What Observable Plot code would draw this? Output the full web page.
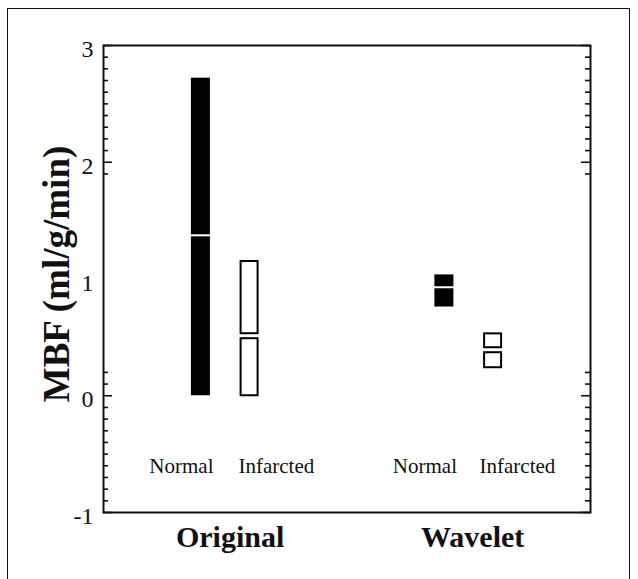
<!DOCTYPE html>
<html>
<head>
<meta charset="utf-8">
<script src="https://cdn.jsdelivr.net/npm/d3@7"></script>
<script src="https://cdn.jsdelivr.net/npm/@observablehq/plot@0.6"></script>
<style>
  html, body { margin: 0; padding: 0; background: #fff; overflow: hidden; }
  #wrap { position: relative; width: 638px; height: 579px; overflow: hidden; }
  #border { position: absolute; left: 7px; top: 8px; width: 623px; height: 620px; border: 1.6px solid #111; box-sizing: border-box; pointer-events: none; }
</style>
</head>
<body>
<div id="wrap"><div id="border"></div></div>
<script>
// ---- data ----
const groups = ["Original", "Wavelet"];
const groupSlots = [2.6, 7.58];
const boxGroup = ["Original", "Original", "Wavelet", "Wavelet"];
const boxCondition = ["Normal", "Infarcted", "Normal", "Infarcted"];
const boxSlots = [2, 3, 7, 8];
const labelSlots = [1.6, 3.55, 6.6, 8.5];
const lowValues = [0, 0, 0.76, 0.24];
const midValues = [1.37, 0.51, 0.925, 0.39];
const highValues = [2.72, 1.15, 1.035, 0.53];
const yTickValues = [-1, 0, 1, 2, 3];
const majorTicks = [-1, 0, 2, 3];
const minorTicks = [2.9, 2.8, 2.7, 2.6, 2.5, 2.4, 2.3, 2.2, 2.1, 1.9, 0.2, 0.1,
  -0.1, -0.2, -0.3, -0.4, -0.5, -0.6, -0.7, -0.8, -0.9];
const yLabel = "MBF (ml/g/min)";

// ---- layout ----
const W = 638, H = 579;
const mL = 103, mR = 48, mT = 45, mB = 67;
const xDomain = [0, 10];
const pxPerX = (W - mL - mR) / (xDomain[1] - xDomain[0]);
const half = 19 / 2 / pxPerX;
const px = (p) => p / pxPerX;

const boxes = boxSlots.map((s, i) => ({
  group: boxGroup[i], cond: boxCondition[i], slot: s,
  lo: lowValues[i], mid: midValues[i], hi: highValues[i]
}));
const filled = boxes.filter(d => d.cond === "Normal");
const open = boxes.filter(d => d.cond === "Infarcted");
const condLabels = boxes.map((d, i) => ({text: d.cond, slot: labelSlots[i]}));
const groupLabels = groups.map((g, i) => ({text: g, slot: groupSlots[i]}));

function tickRules(vals, len) {
  return [
    Plot.ruleY(vals, {y: d => d, x1: xDomain[0], x2: xDomain[0] + px(len), stroke: "#111", strokeWidth: 1.6}),
    Plot.ruleY(vals, {y: d => d, x1: xDomain[1] - px(len), x2: xDomain[1], stroke: "#111", strokeWidth: 1.6})
  ];
}

const chart = Plot.plot({
  width: W, height: H,
  marginLeft: mL, marginRight: mR, marginTop: mT, marginBottom: mB,
  x: {domain: xDomain, axis: null},
  y: {domain: [-1, 3], axis: null},
  style: {fontFamily: "'Liberation Serif', 'Times New Roman', serif", color: "#111", background: "transparent"},
  marks: [
    Plot.rect(filled, {x1: d => d.slot - half, x2: d => d.slot + half, y1: "lo", y2: "mid", fill: "#000", insetTop: 1}),
    Plot.rect(filled, {x1: d => d.slot - half, x2: d => d.slot + half, y1: "mid", y2: "hi", fill: "#000", insetBottom: 1}),
    Plot.rect(open, {x1: d => d.slot - half, x2: d => d.slot + half, y1: "lo", y2: "mid", fill: "#fff", stroke: "#000", strokeWidth: 2, insetTop: 2.5, insetLeft: 1, insetRight: 1}),
    Plot.rect(open, {x1: d => d.slot - half, x2: d => d.slot + half, y1: "mid", y2: "hi", fill: "#fff", stroke: "#000", strokeWidth: 2, insetBottom: 2.5, insetLeft: 1, insetRight: 1}),
    ...tickRules(majorTicks, 9),
    ...tickRules(minorTicks, 5),
    Plot.frame({stroke: "#111", strokeWidth: 2}),
    Plot.axisY({ticks: yTickValues, tickSize: 0, tickPadding: 10, fontSize: 24, dy: 4, tickFormat: d => String(d)}),
    Plot.text(condLabels, {x: "slot", y: -0.6, text: "text", fontSize: 21, lineAnchor: "middle", fill: "#111"}),
    Plot.text(groupLabels, {x: "slot", y: -1, text: "text", fontSize: 30, fontWeight: "bold", lineAnchor: "middle", dy: 25, fill: "#111"}),
    Plot.text([yLabel], {frameAnchor: "left", textAnchor: "middle", text: d => d, rotate: -90, fontSize: 37, fontWeight: "bold", lineAnchor: "middle", dx: -46, dy: -5, fill: "#111"})
  ]
});
document.getElementById("wrap").prepend(chart);
</script>
</body>
</html>
